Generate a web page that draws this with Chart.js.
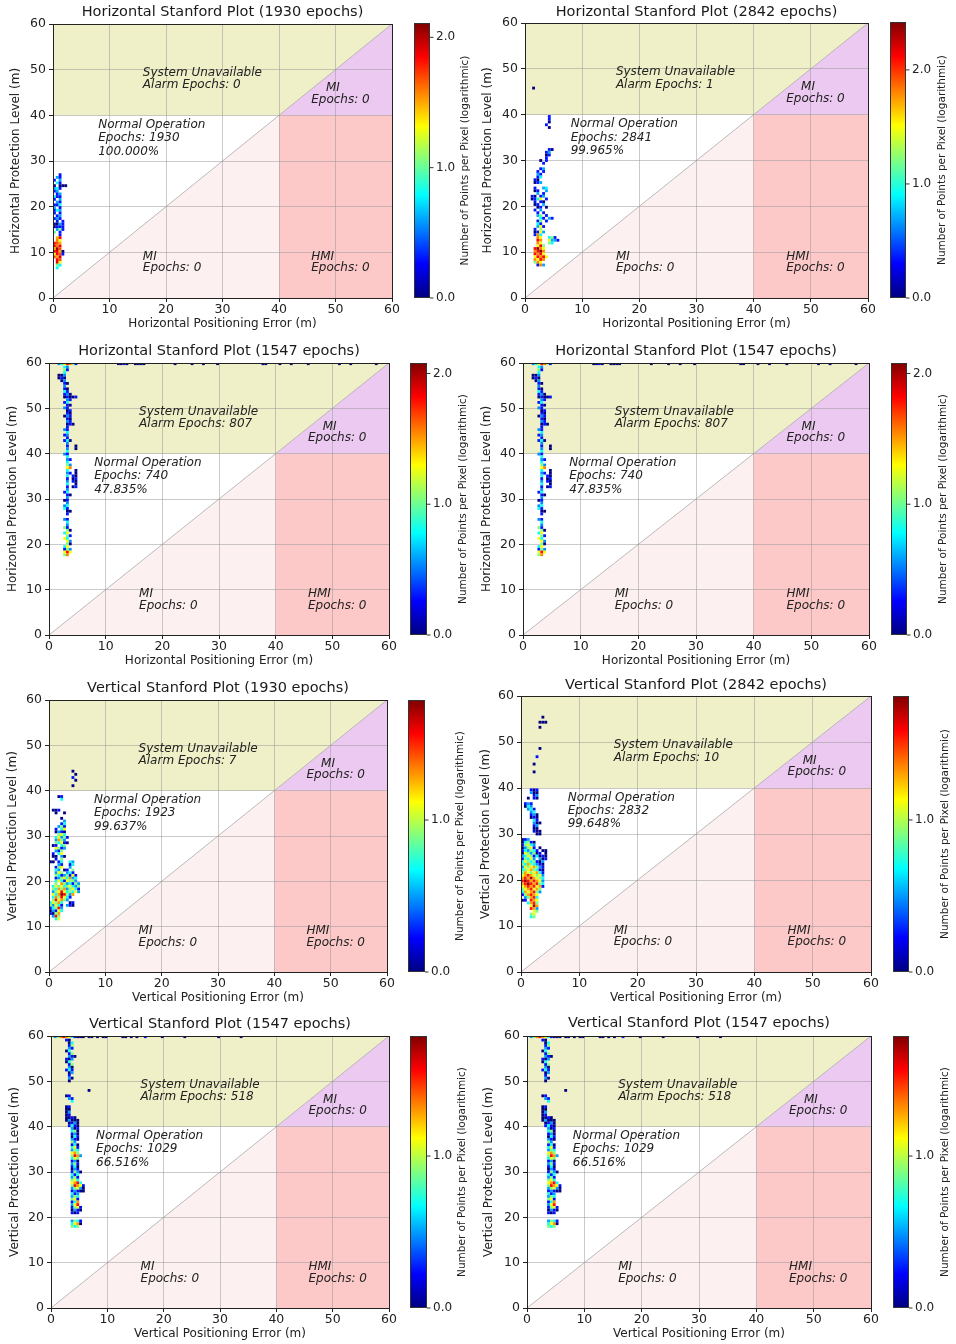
<!DOCTYPE html>
<html><head><meta charset="utf-8">
<script src="https://cdn.jsdelivr.net/npm/chart.js@4.4.1/dist/chart.umd.min.js"></script>
<style>
html,body{margin:0;padding:0;background:#fff;}
#wrap{position:relative;width:956px;height:1344px;overflow:hidden;}
canvas{position:absolute;}
</style></head><body><div id="wrap"></div>
<script>
// ---------------- DATA ----------------
const plotTitles = [
  'Horizontal Stanford Plot (1930 epochs)', 'Horizontal Stanford Plot (2842 epochs)',
  'Horizontal Stanford Plot (1547 epochs)', 'Horizontal Stanford Plot (1547 epochs)',
  'Vertical Stanford Plot (1930 epochs)', 'Vertical Stanford Plot (2842 epochs)',
  'Vertical Stanford Plot (1547 epochs)', 'Vertical Stanford Plot (1547 epochs)'
];
const xAxisTitles = ['Horizontal Positioning Error (m)','Horizontal Positioning Error (m)','Horizontal Positioning Error (m)','Horizontal Positioning Error (m)',
  'Vertical Positioning Error (m)','Vertical Positioning Error (m)','Vertical Positioning Error (m)','Vertical Positioning Error (m)'];
const yAxisTitles = ['Horizontal Protection Level (m)','Horizontal Protection Level (m)','Horizontal Protection Level (m)','Horizontal Protection Level (m)',
  'Vertical Protection Level (m)','Vertical Protection Level (m)','Vertical Protection Level (m)','Vertical Protection Level (m)'];
const alarmEpochs   = [0, 1, 807, 807, 7, 10, 518, 518];
const normalEpochs  = [1930, 2841, 740, 740, 1923, 2832, 1029, 1029];
const normalPercent = ['100.000%','99.965%','47.835%','47.835%','99.637%','99.648%','66.516%','66.516%'];
const upperMiEpochs = [0, 0, 0, 0, 0, 0, 0, 0];
const lowerMiEpochs = [0, 0, 0, 0, 0, 0, 0, 0];
const hmiEpochs     = [0, 0, 0, 0, 0, 0, 0, 0];
const colorbarMax   = [2.11, 2.42, 2.08, 2.08, 1.79, 1.815, 1.79, 1.79];
const colorbarTicks = [[0,1,2],[0,1,2],[0,1,2],[0,1,2],[0,1],[0,1],[0,1],[0,1]];
const axisTicks = [0, 10, 20, 30, 40, 50, 60];
const colorbarLabel = 'Number of Points per Pixel (logarithmic)';

// histogram cells: each row = [y, x1, v1, x2, v2, ...] (v = log10 count)
const cellsH1930 = [
  [27.0, 1.25,0.3],[26.4, 0.75,0.6, 1.25,0.3],[25.8, 0.25,0.3, 1.25,0.6],[25.2, 0.75,0.8, 1.25,0.3],
  [24.6, 0.25,0, 1.25,0, 1.75,0, 2.25,0],[24.0, 0.25,0.6, 0.75,0.8, 1.25,0.3],[23.4, 0.25,0.3, 0.75,0.6],
  [22.8, 0.75,0.3, 1.25,0.6],[22.2, 0.25,0.8, 0.75,0.3, 1.25,0.3],[21.6, 0.25,0.3, 1.25,0.6],
  [21.0, 0.75,0.6, 1.25,0.3],[20.4, 0.25,0.3, 0.75,0.3, 1.25,0.8],[19.8, 0.25,0.6, 1.25,0.3],
  [19.2, 0.25,0.3, 0.75,0.8, 1.25,0.6],[18.6, 0.25,0.3, 1.25,0.3],[18.0, 0.75,0.3, 1.25,0.6],
  [17.4, 0.25,0.3, 0.75,0.6, 1.25,0.3],[16.8, 0.75,0.3, 1.75,0.3],[16.2, 0.25,0, 0.75,0, 1.25,0.6, 1.75,0.3],
  [15.6, 0.25,0, 0.75,0.3, 1.25,0.3, 1.75,0.3],[15.0, 0.75,0.6, 1.25,1.05, 1.75,0.3],[14.4, 0.25,1.0, 1.25,0.3],
  [13.8, 1.25,0.3],[13.2, 0.75,1.5, 1.25,1.85],[12.6, 0.75,1.6, 1.25,1.3],[12.0, 0.25,1.85, 0.75,1.7, 1.25,1.5],
  [11.4, 0.25,1.9, 0.75,1.6, 1.25,1.85],[10.8, 0.25,1.5, 0.75,2.05, 1.25,1.7],[10.2, 0.25,1.85, 0.75,1.9, 1.25,1.5, 1.75,0],
  [9.6, 0.25,1.3, 0.75,1.85, 1.25,1.7, 1.75,0.3],[9.0, 0.25,1.7, 0.75,1.5, 1.25,1.9],[8.4, 0.75,1.85, 1.25,1.7],
  [7.8, 0.75,1.9, 1.25,1.3],[7.2, 0.75,1.05, 1.25,0.8],[6.6, 0.75,0.8]
];
const cellsH2842 = [
  [45.8, 1.5,0],[39.6, 4.25,0.35],[39.0, 4.25,0.35],[38.4, 4.25,0],[37.8, 3.75,0.35],[37.2, 4.25,0],
  [32.4, 4.25,0.35, 4.75,0],[31.8, 3.75,0.35, 4.25,0.7],[31.2, 3.75,0, 4.25,0.35],[30.6, 3.75,0.35],
  [30.0, 2.75,0, 3.75,0.35],[29.4, 3.25,0.35],[28.2, 2.75,0.35, 3.25,0.7],[27.6, 2.25,0.35, 3.25,0.35],
  [27.0, 2.25,0.7, 2.75,0.35],[26.4, 2.25,0.35, 2.75,0.9],[25.8, 1.75,0.35, 2.25,0],[25.2, 1.75,0, 2.25,0.35, 2.75,0.7],
  [24.0, 1.75,0.35, 3.25,0.7, 3.75,0.9],[23.4, 1.75,0, 2.25,0.35, 3.75,0.7],[22.8, 2.25,0.7, 3.25,0.35],
  [22.2, 1.25,0.35, 1.75,0, 2.75,0.35, 3.25,0.7],[21.6, 1.25,0, 1.75,0.35, 2.25,0.9, 2.75,1.5, 3.75,0.35],
  [21.0, 1.75,0.35, 2.75,0.35, 3.25,0],[20.4, 1.75,0, 2.25,0.35, 3.25,0.7],[19.8, 2.25,0, 2.75,0.35, 3.75,0],
  [19.2, 1.75,0.35, 2.75,0.7],[18.6, 2.25,0.35, 3.25,0.35],[18.0, 2.25,0.7, 2.75,1.2, 3.75,0.35],
  [17.4, 2.75,0.9, 3.25,0.35, 4.25,0.7, 4.75,0.35],[16.8, 2.25,0.35, 2.75,1.2, 3.75,0.35],[16.2, 2.25,0.9, 2.75,0.35],
  [15.6, 2.25,0.7, 2.75,1.5, 3.25,0.35],[15.0, 1.75,0.35, 2.75,1.3],[14.4, 1.75,0, 2.25,0.35, 2.75,1.5, 3.25,0.7],
  [13.8, 1.75,0.35, 2.25,1.8, 2.75,0.9],[13.2, 2.25,1.8, 2.75,1.5, 4.25,0.9, 4.75,1.2, 5.25,0.35],
  [12.6, 2.25,2.1, 2.75,1.8, 4.25,1.5, 4.75,0.7, 5.25,0.7, 5.75,0.35],[12.0, 2.25,1.8, 2.75,1.5, 4.25,1.2, 4.75,0.9],
  [11.4, 2.25,1.5, 2.75,2.1, 3.25,1.2],[10.8, 1.75,2.1, 2.25,2.4, 2.75,1.8, 3.25,1.5],
  [10.2, 1.75,1.8, 2.25,2.1, 2.75,2.4, 3.25,1.8],[9.6, 1.75,2.1, 2.25,1.8, 2.75,2.1, 3.25,1.5],
  [9.0, 1.75,1.5, 2.25,2.1, 2.75,1.8, 3.25,2.1, 3.75,1.5],[8.4, 1.75,1.8, 2.25,1.5, 2.75,2.1, 3.25,1.8],
  [7.8, 1.75,1.2, 2.25,1.8, 2.75,1.5],[7.2, 2.25,0.35, 2.75,1.8, 3.25,0.7]
];
const cellsH1547 = [
  [59.85, 1.75,0.55, 2.25,0.8, 2.75,1.3, 3.25,1.8, 3.75,1.55, 4.25,1.05, 4.75,0.3, 12.25,0, 12.75,0, 13.25,0.3, 13.75,0,
          15.25,0, 15.75,0, 16.25,0, 16.75,0, 22.25,0, 25.25,0, 27.25,0, 29.75,0, 37.75,0, 38.25,0, 40.75,0, 42.75,0,
          45.75,0, 51.25,0, 53.25,0, 57.75,0],
  [59.1, 2.75,0.8, 3.25,0.55],[58.5, 2.75,1.05, 3.25,0.3],[57.9, 2.75,0.8],[57.3, 1.75,0, 2.25,0, 2.75,0.55],
  [56.7, 1.75,0, 2.25,0.3, 2.75,0],[56.1, 2.25,0, 2.75,0.55],[55.5, 2.75,0.3, 3.25,0],[54.9, 2.75,0.55],
  [54.3, 2.75,0.3, 3.25,0],[53.7, 2.75,0.8, 3.25,0.3],[53.1, 2.75,0.3, 3.25,0.55, 3.75,0],
  [52.5, 2.75,0, 3.25,0.3, 3.75,0, 4.25,0, 4.75,0.3],[51.9, 3.25,0.55, 3.75,0.3],[51.3, 2.75,0.3, 3.25,0.8],
  [50.7, 3.25,0.3, 3.75,0],[50.1, 2.75,0.55, 3.25,0.3],[49.5, 3.25,0, 3.75,0.3],[48.9, 3.25,0.3, 3.75,0],
  [48.3, 2.75,0, 3.25,0.55, 3.75,0.3],[47.7, 3.25,0.3, 3.75,0],[47.1, 3.25,0.55, 3.75,0.3],
  [46.5, 3.25,0, 3.75,0.3, 4.25,0],[45.9, 3.25,0.3],[45.3, 2.75,0.55, 3.25,0.3],[44.7, 3.25,0.8],
  [44.1, 2.75,0.3, 3.25,0.55],[43.5, 3.25,0.3],[42.9, 2.75,0.3, 3.25,0.8, 3.75,0],[42.3, 3.25,0.55],
  [41.7, 3.25,0.3, 4.75,0],[41.1, 3.25,0.55, 4.75,0],[40.5, 3.25,0.8],[39.9, 2.75,0.55, 3.25,0.3],
  [39.3, 3.25,0.8],[38.7, 3.25,0.55, 3.75,0.3],[38.1, 3.25,0.8],[37.5, 3.25,1.05, 3.75,0.55],
  [36.9, 3.25,1.3, 3.75,1.55],[36.3, 3.25,0.8, 4.75,0],[35.7, 3.25,0.55, 3.75,0.3, 4.75,0],
  [35.1, 3.25,0.8, 4.25,0.3, 4.75,0],[34.5, 3.25,0.3, 4.25,0, 4.75,0.3],[33.9, 3.25,0.55, 4.25,0.3, 4.75,0],
  [33.3, 3.25,0.8, 4.75,0],[32.7, 3.25,0.3, 4.25,0, 4.75,0.3],[32.1, 3.25,0.55],[31.5, 2.75,0.3, 3.25,0.8],
  [30.9, 3.25,0.3, 3.75,0],[30.3, 3.25,0.55],[29.7, 2.75,0, 3.25,0.3],[29.1, 3.25,0.55],
  [28.5, 2.75,0.55, 3.25,0.8],[27.9, 2.75,0.8, 3.25,0.3],[27.3, 3.25,0, 3.75,0],[26.7, 3.25,0.3],
  [25.5, 2.75,0.55, 3.25,0.3],[24.9, 3.25,0.8],[24.3, 3.25,0.55],[23.7, 2.75,1.05, 3.25,0.3],
  [23.1, 3.25,1.05, 3.75,0],[22.5, 2.75,0.8, 3.25,1.3],[21.9, 3.25,1.05, 3.75,0.3],[21.3, 2.75,1.3, 3.25,0.8],
  [20.7, 3.25,1.3, 3.75,0.55],[20.1, 3.25,1.05, 3.75,0],[19.5, 2.75,0.8, 3.25,1.3],
  [18.9, 2.75,0.3, 3.25,1.05, 3.75,0.55],[18.3, 2.75,1.3, 3.25,1.8, 3.75,1.3],[17.7, 2.75,1.05, 3.25,1.55]
];
const cellsV1930 = [
  [44.3, 4.25,0],[43.6, 4.75,0],[42.9, 4.25,0.25],[42.3, 4.75,0],[41.1, 4.25,0],
  [38.7, 1.75,0, 2.25,0.25],[38.1, 2.25,0.7],[35.7, 0.75,0, 1.25,0, 1.75,0.25],[35.1, 1.25,0, 2.75,0],
  [33.9, 2.25,0],[33.3, 2.75,0.5],[32.7, 2.25,0.25, 2.75,0.7],[32.1, 1.75,0.5, 2.25,0.9, 2.75,0.25],
  [31.5, 1.25,0.25, 2.25,0.7, 2.75,1.1],[30.9, 1.25,0, 1.75,0.5, 2.25,0.25, 2.75,0],
  [30.3, 1.75,0.9, 2.25,1.1, 2.75,0.7],[29.7, 1.25,0.7, 1.75,1.1, 2.25,0.5, 2.75,0.9, 3.25,0.25],
  [29.1, 1.25,0.5, 1.75,1.3, 2.25,0.9, 2.75,0.5],[28.5, 1.25,0.9, 1.75,0.7, 2.25,1.1, 2.75,0.25, 3.25,0],
  [27.9, 0.75,0, 1.25,0.25, 2.25,0.7, 2.75,0.9],[27.3, 1.25,1.1, 1.75,0.9, 2.25,0.25, 2.75,0.5],
  [26.7, 1.25,0.5, 1.75,0.25, 2.25,0.9],[26.1, 0.75,0.25, 1.75,0.7, 2.25,1.1],[25.5, 0.75,0, 1.25,0, 2.25,0.5, 2.75,0],
  [24.9, 1.25,0.25, 2.25,0.9],[24.3, 0.25,0, 0.75,0, 1.75,0.25, 2.25,0.7, 3.75,0.7, 4.25,0.5],
  [23.7, 1.75,0.5, 2.25,0.25, 3.75,0.25, 4.25,0.7],[23.1, 1.25,0.25, 1.75,0.9, 2.25,1.1, 3.75,0.5],
  [22.5, 1.25,0.7, 1.75,0.5, 2.75,0, 3.25,0.25, 4.25,0.9],
  [21.9, 1.25,0.5, 1.75,1.1, 2.25,0.9, 3.25,0.5, 3.75,0.7, 4.25,0.25],
  [21.3, 1.25,0.9, 1.75,0.7, 2.25,0.25, 2.75,0.5, 3.25,0.9, 3.75,0.25, 4.25,1.1, 4.75,0.25],
  [20.7, 1.25,0.25, 1.75,0.5, 2.25,0.9, 2.75,1.1, 3.25,0.7, 3.75,1.3, 4.25,0.5, 4.75,0.7],
  [20.1, 1.25,0.7, 1.75,1.1, 2.25,0.7, 2.75,0.25, 3.25,1.1, 3.75,0.9, 4.25,0.9, 4.75,0.5],
  [19.5, 1.25,0.9, 2.25,1.3, 2.75,0.9, 3.25,0.5, 3.75,0.7, 4.25,0.25, 4.75,0.9, 5.25,0.5],
  [18.9, 0.75,0.7, 1.25,1.1, 1.75,0.9, 2.25,1.1, 2.75,0.7, 3.25,0.9, 3.75,1.1, 4.25,0.7, 4.75,0.5, 5.25,0.9],
  [18.3, 0.75,0.9, 1.25,0.7, 1.75,1.3, 2.25,0.9, 2.75,1.3, 3.25,0.5, 3.75,0.9, 4.25,1.1, 4.75,0.7, 5.25,0.25],
  [17.7, 0.75,0.5, 1.25,0.9, 1.75,1.1, 2.25,1.55, 2.75,1.1, 3.25,0.7, 3.75,0.9, 4.25,0.7, 4.75,1.1, 5.25,0.5],
  [17.1, 0.75,1.1, 1.25,0.7, 1.75,1.3, 2.25,1.75, 2.75,1.55, 3.25,0.9, 3.75,0.5, 4.25,1.3],
  [16.5, 0.75,0.7, 1.25,1.3, 1.75,0.9, 2.25,1.55, 2.75,1.1, 3.25,0.7, 3.75,0.25],
  [15.9, 0.75,0.9, 1.25,1.55, 1.75,1.1, 2.25,1.3, 2.75,0.9, 3.25,0.5],
  [15.3, 0.25,0.7, 0.75,1.1, 1.25,0.9, 1.75,1.3, 2.25,0.7, 3.75,0, 4.25,0.25],
  [14.7, 0.25,0.9, 0.75,0.5, 1.25,1.1, 1.75,0.7, 2.25,0.25, 3.25,0.5, 3.75,0.25, 4.25,0],
  [14.1, 0.25,0.25, 0.75,0.7, 1.25,0.9, 1.75,1.55, 2.25,0.5],[13.5, 0.25,0, 0.75,0.5, 1.25,0.25, 1.75,1.1, 2.25,0.7],
  [12.9, 0.25,0.25, 0.75,0, 1.25,0.9, 1.75,1.3],[12.3, 0.75,0.5, 1.25,1.55, 1.75,0.9],[11.7, 1.25,0.7, 1.75,1.1]
];
const cellsV2842 = [
  [55.4, 3.75,0],[54.3, 3.25,0, 3.75,0, 4.25,0],[53.2, 3.25,0],[48.6, 3.25,0],[46.8, 2.75,0.25],[45.2, 2.25,0],[43.5, 2.25,0],
  [39.6, 1.75,0.25, 2.25,0, 2.75,0.25],[39.0, 1.75,0.5, 2.25,0, 2.75,0],[38.4, 2.25,0.25, 2.75,0.5],[37.8, 1.25,0, 2.25,0.25, 2.75,0],
  [36.6, 0.75,0.25, 1.25,0.5, 1.75,0.25],[36.0, 0.75,0, 1.25,0.7, 1.75,0.5],[35.4, 1.25,0.5, 1.75,0.7, 2.25,0.25],
  [34.8, 1.75,0.5, 2.25,0.7],[34.2, 1.75,0.25, 2.25,0.5, 2.75,0],[33.6, 1.75,0, 2.25,0.25, 2.75,0],[33.0, 2.25,0.7, 2.75,0.25],
  [32.4, 2.25,0.5, 2.75,0, 3.25,0],[31.8, 2.25,0.25, 2.75,0.5],[31.2, 2.25,0, 2.75,0],[30.6, 2.25,0.25, 2.75,0, 3.25,0],
  [30.0, 2.75,0, 3.25,0],[28.8, 0.25,0, 0.75,0.25, 1.25,0.5],[28.2, 0.25,0, 0.75,0.7, 1.25,0.9, 1.75,0.25, 2.25,0],
  [27.6, 0.25,0.25, 0.75,0.9, 1.25,1.1, 1.75,0.7, 2.25,0.5],[27.0, 0.25,0, 0.75,0.5, 1.25,0.9, 1.75,1.1, 2.25,0.25, 3.25,0],
  [26.4, 0.25,0.25, 0.75,0.7, 1.25,0.5, 1.75,0.9, 2.25,0.7, 2.75,0.25, 3.75,0, 4.25,0],
  [25.8, 0.25,0, 0.75,1.1, 1.25,0.9, 1.75,0.5, 2.25,0.9, 2.75,0, 3.25,0.25, 4.25,0],
  [25.2, 0.25,0.5, 0.75,0.7, 1.25,1.1, 1.75,0.9, 2.25,0.25, 2.75,0.7, 3.25,0, 3.75,0.25, 4.25,0],
  [24.6, 0.25,0.25, 0.75,0.9, 1.25,0.7, 1.75,1.1, 2.25,0.5, 3.25,0.5, 3.75,0, 4.25,0.25],
  [24.0, 0.25,0.7, 0.75,1.1, 1.25,0.9, 1.75,0.7, 2.25,0.9, 2.75,0.25, 3.25,0, 3.75,0.5],
  [23.4, 0.25,0.9, 0.75,0.7, 1.25,1.3, 1.75,0.9, 2.25,0.7, 2.75,0.5, 3.25,0.25, 3.75,0],
  [22.8, 0.25,0.5, 0.75,1.1, 1.25,0.9, 1.75,1.1, 2.25,1.3, 2.75,0.9, 3.25,0.5, 3.75,0.25],
  [22.2, 0.25,0.7, 0.75,0.9, 1.25,1.1, 1.75,1.3, 2.25,0.9, 2.75,0.7, 3.25,0.25, 3.75,0],
  [21.6, 0.25,0.9, 0.75,1.3, 1.25,1.1, 1.75,0.9, 2.25,1.1, 2.75,1.3, 3.25,0.7, 3.75,0.25],
  [21.0, 0.25,1.1, 0.75,1.3, 1.25,1.55, 1.75,1.3, 2.25,1.1, 2.75,0.9, 3.25,1.1, 3.75,0.5],
  [20.4, 0.25,1.3, 0.75,1.55, 1.25,1.3, 1.75,1.75, 2.25,1.3, 2.75,1.1, 3.25,0.9, 3.75,0.7],
  [19.8, 0.25,1.55, 0.75,1.75, 1.25,1.55, 1.75,1.3, 2.25,1.55, 2.75,1.3, 3.25,1.1, 3.75,0.5],
  [19.2, 0.25,1.3, 0.75,1.55, 1.25,1.75, 1.75,1.55, 2.25,1.3, 2.75,1.55, 3.25,0.9, 3.75,0.7],
  [18.6, 0.25,1.1, 0.75,1.3, 1.25,1.55, 1.75,1.3, 2.25,1.55, 2.75,1.1, 3.25,1.3, 3.75,0.25],
  [18.0, 0.25,0.9, 0.75,1.1, 1.25,1.3, 1.75,1.55, 2.25,1.1, 2.75,1.3, 3.25,0.9],
  [17.4, 0.25,0.7, 0.75,1.3, 1.25,1.1, 1.75,1.3, 2.25,1.55, 2.75,0.9, 3.25,0.5],
  [16.8, 0.25,0.25, 0.75,0.9, 1.25,1.3, 1.75,1.55, 2.25,1.3, 2.75,1.1],
  [16.2, 0.75,0.5, 1.25,0.9, 1.75,1.3, 2.25,1.55, 2.75,0.7],[15.6, 0.25,0, 0.75,0.25, 1.75,1.55, 2.25,1.3, 2.75,1.1],
  [15.0, 1.25,0.7, 1.75,1.3, 2.25,1.55, 2.75,0.9],[14.4, 1.75,1.1, 2.25,1.75, 2.75,1.3],[13.8, 1.75,1.55, 2.25,1.3, 2.75,0.5],
  [13.2, 2.25,1.1, 2.75,0.9],[12.6, 1.75,0.9, 2.25,1.1],[12.0, 1.75,0.7, 2.25,0.9]
];
const cellsV1547 = [
  [59.85, 0.75,0.5, 1.25,0.9, 1.75,1.3, 2.25,1.55, 2.75,1.3, 3.25,1.1, 3.75,0.7, 4.25,0.25, 4.75,0, 5.25,0, 5.75,0,
          6.75,0, 7.25,0, 8.25,0, 9.25,0, 9.75,0, 12.75,0, 13.25,0, 14.25,0, 15.25,0, 16.75,0.25, 19.75,0, 23.75,0, 29.75,0, 33.75,0],
  [59.1, 2.75,0.25, 3.25,0],[58.5, 3.25,0, 3.75,0.7],[57.9, 3.25,0.25, 3.75,0.9],[57.3, 3.25,0.5, 3.75,0.25],
  [56.7, 2.75,0, 3.25,0.7],[56.1, 3.25,0.25, 3.75,0.9],[55.5, 3.25,0.5, 3.75,0.25, 4.25,0],[54.9, 2.75,0.25, 3.25,0, 3.75,0.5],
  [54.3, 2.75,0, 3.25,0.7],[53.7, 3.25,0.25, 3.75,0.9],[53.1, 3.25,0.5, 3.75,0],[52.5, 2.75,0.25, 3.25,0.7, 3.75,0.25],
  [51.9, 3.25,0, 3.75,0.5],[51.3, 3.25,0.25],[50.7, 3.25,0.5, 3.75,0],[50.1, 3.25,0],[48.0, 6.75,0],
  [46.8, 2.75,0, 3.25,0.25],[46.2, 3.25,0.5, 3.75,0.25],[45.6, 3.75,0.7],[44.4, 2.75,0, 3.25,0.25],[43.8, 2.75,0, 3.25,0],
  [43.2, 2.75,0, 3.25,0.5],[42.6, 2.75,0, 3.25,0.25],[42.0, 2.75,0, 3.25,0, 3.75,0.25, 4.25,0],
  [41.4, 2.75,0, 3.25,0.5, 3.75,0, 4.25,0, 4.75,0],[40.8, 3.25,0, 3.75,0.25, 4.25,0.5, 4.75,0],
  [40.2, 3.25,0.25, 3.75,0.7, 4.25,0.25, 4.75,0],[39.6, 3.75,0.5, 4.25,0, 4.75,0.25],[39.0, 3.75,0.7, 4.25,0.9, 4.75,0],
  [38.4, 3.75,0.25, 4.25,0.5, 4.75,0],[37.8, 3.75,0, 4.25,0.7, 4.75,0.25],[37.2, 3.75,0.5, 4.25,0.25, 4.75,0],
  [36.6, 3.75,0.9, 4.25,0.5],[36.0, 3.75,0.25, 4.25,0.7, 4.75,0],[35.4, 3.75,0.7, 4.25,1.1, 4.75,0.25],
  [34.8, 3.75,0.5, 4.25,0.9, 4.75,0.7],[34.2, 3.75,1.1, 4.25,1.3, 4.75,0.9],[33.6, 3.75,0.9, 4.25,1.55, 4.75,1.3, 5.25,0.5],
  [33.0, 3.75,0.7, 4.25,1.1, 4.75,0.9],[32.4, 3.75,0.25, 4.25,0.5, 4.75,0],[31.8, 3.75,0.5, 4.25,0.9, 4.75,0.25],
  [31.2, 3.75,0.25, 4.25,0.7, 4.75,0],[30.6, 3.75,0, 4.25,0.5, 4.75,0.25],[30.0, 3.75,0.25, 4.25,0.9, 4.75,0.5, 5.25,0],
  [29.4, 3.75,0.7, 4.25,0.25, 4.75,0.7],[28.8, 3.75,0.5, 4.25,0.9, 4.75,0.25],[28.2, 3.75,0.9, 4.25,1.1, 4.75,0.7],
  [27.6, 3.75,1.1, 4.25,1.3, 4.75,1.55, 5.25,0.7],[27.0, 3.75,0.9, 4.25,1.55, 4.75,1.3, 5.25,1.1, 5.75,0.25],
  [26.4, 3.75,0.5, 4.25,0.9, 4.75,1.1, 5.25,0.5, 5.75,0],[25.8, 3.75,0.25, 4.25,0.5, 4.75,0.25, 5.25,0, 5.75,0],
  [25.2, 3.75,0.7, 4.25,0.25, 4.75,0.5],[24.6, 3.75,0.5, 4.25,0.9, 4.75,0.7],[24.0, 3.75,0.9, 4.25,1.1, 4.75,0.25],
  [23.4, 3.75,0.25, 4.25,0.7, 4.75,1.3],[22.8, 3.75,0.5, 4.25,1.1, 4.75,1.55],[22.2, 3.75,0.25, 4.25,0.9, 4.75,1.1, 5.25,0.25],
  [21.6, 3.75,0, 4.25,0.5, 4.75,0.25, 5.25,0],[21.0, 3.75,0.25, 4.25,0, 4.75,0.25],
  [19.2, 3.75,0.5, 4.25,0.9, 4.75,0.7, 5.25,0.25],[18.6, 3.75,0.7, 4.25,1.1, 4.75,1.3, 5.25,0],[18.0, 3.75,0.9, 4.25,0.7, 4.75,0.9]
];
const panelCells = [cellsH1930, cellsH2842, cellsH1547, cellsH1547, cellsV1930, cellsV2842, cellsV1547, cellsV1547];

// ---------------- LAYOUT (pixels, local to each panel canvas) ----------------
const PW = 478, PH = 336;
const layouts = [
  {ox:0,   oy:0,    L:53, R:392, T:24, B:298, titleY:12, yTitleX:16, cbL:414, cbR:430, cbT:23, cbB:298, cbLabelX:465},
  {ox:478, oy:0,    L:47, R:390, T:23, B:298, titleY:12, yTitleX:10, cbL:412, cbR:428, cbT:22, cbB:298, cbLabelX:464},
  {ox:0,   oy:336,  L:49, R:389, T:27, B:299, titleY:15, yTitleX:13, cbL:410, cbR:427, cbT:27, cbB:299, cbLabelX:463},
  {ox:478, oy:336,  L:45, R:391, T:27, B:299, titleY:15, yTitleX:9,  cbL:413, cbR:429, cbT:27, cbB:299, cbLabelX:465},
  {ox:0,   oy:672,  L:49, R:387, T:28, B:300, titleY:16, yTitleX:13, cbL:408, cbR:425, cbT:28, cbB:300, cbLabelX:460},
  {ox:478, oy:672,  L:43, R:393, T:24, B:300, titleY:13, yTitleX:8,  cbL:415, cbR:431, cbT:24, cbB:300, cbLabelX:467},
  {ox:0,   oy:1008, L:51, R:389, T:28, B:300, titleY:16, yTitleX:15, cbL:410, cbR:427, cbT:28, cbB:300, cbLabelX:462},
  {ox:478, oy:1008, L:49, R:393, T:28, B:300, titleY:15, yTitleX:11, cbL:415, cbR:431, cbT:28, cbB:300, cbLabelX:467}
];
const FONT = '"DejaVu Sans", "Liberation Sans", sans-serif';
const TEXT = '#222222';
const REGION = {normal:'#ffffff', unavail:'#efefc8', miUpper:'#ecc9f0', miLower:'#fdf0f0', hmi:'#fcc8c8'};

function clamp01(v){ return Math.max(0, Math.min(1, v)); }
function jet(t){
  t = clamp01(t);
  const r = clamp01(1.5 - Math.abs(4*t - 3));
  const g = clamp01(1.5 - Math.abs(4*t - 2));
  const b = clamp01(1.5 - Math.abs(4*t - 1));
  return `rgb(${Math.round(r*255)},${Math.round(g*255)},${Math.round(b*255)})`;
}
function expandRows(rows){
  const out = [];
  rows.forEach(r => { for (let i = 1; i < r.length; i += 2) out.push({x: r[i], y: r[0], v: r[i+1]}); });
  return out;
}

const stanfordPlugin = {
  id: 'stanford',
  beforeDraw(chart, args, o){
    const {ctx, scales:{x, y}} = chart;
    const poly = (pts, color) => {
      ctx.beginPath();
      pts.forEach((p, i) => { const px = x.getPixelForValue(p[0]), py = y.getPixelForValue(p[1]); i ? ctx.lineTo(px, py) : ctx.moveTo(px, py); });
      ctx.closePath(); ctx.fillStyle = color; ctx.fill();
    };
    ctx.save();
    poly([[0,0],[40,40],[0,40]], REGION.normal);
    poly([[0,40],[40,40],[60,60],[0,60]], REGION.unavail);
    poly([[40,40],[60,40],[60,60]], REGION.miUpper);
    poly([[0,0],[40,0],[40,40]], REGION.miLower);
    poly([[40,0],[60,0],[60,40],[40,40]], REGION.hmi);
    ctx.beginPath();
    ctx.moveTo(x.getPixelForValue(0), y.getPixelForValue(0));
    ctx.lineTo(x.getPixelForValue(60), y.getPixelForValue(60));
    ctx.strokeStyle = 'rgba(170,170,170,0.8)'; ctx.lineWidth = 1; ctx.stroke();
    ctx.restore();
  },
  afterDatasetsDraw(chart, args, o){
    const {ctx, chartArea:a, scales:{x, y}} = chart;
    ctx.save();
    ctx.font = 'italic 12px ' + FONT;
    ctx.fillStyle = TEXT; ctx.textAlign = 'left'; ctx.textBaseline = 'middle';
    o.labels.forEach(l => ctx.fillText(l.text, x.getPixelForValue(l.x), y.getPixelForValue(l.y)));
    ctx.strokeStyle = '#222'; ctx.lineWidth = 1;
    ctx.strokeRect(Math.round(a.left)+0.5, Math.round(a.top)+0.5, Math.round(a.right-a.left), Math.round(a.bottom-a.top));
    ctx.restore();
  },
  afterDraw(chart, args, o){
    const {ctx, chartArea:a} = chart;
    const lay = o.lay;
    ctx.save();
    ctx.font = '14.5px ' + FONT; ctx.fillStyle = '#1a1a1a';
    ctx.textAlign = 'center'; ctx.textBaseline = 'middle';
    ctx.fillText(o.title, (a.left + a.right)/2, lay.titleY);
    const g = ctx.createLinearGradient(0, lay.cbB, 0, lay.cbT);
    for (let i = 0; i <= 32; i++) g.addColorStop(i/32, jet(i/32));
    ctx.fillStyle = g;
    ctx.fillRect(lay.cbL, lay.cbT, lay.cbR - lay.cbL, lay.cbB - lay.cbT);
    ctx.strokeStyle = '#333'; ctx.lineWidth = 1;
    ctx.strokeRect(lay.cbL + 0.5, lay.cbT + 0.5, lay.cbR - lay.cbL - 1, lay.cbB - lay.cbT - 1);
    ctx.font = '12px ' + FONT; ctx.fillStyle = TEXT;
    ctx.textAlign = 'left'; ctx.textBaseline = 'middle';
    o.cbTicks.forEach(t => {
      const py = lay.cbB - (t / o.vmax) * (lay.cbB - lay.cbT);
      ctx.beginPath(); ctx.moveTo(lay.cbR, py); ctx.lineTo(lay.cbR + 3.5, py); ctx.stroke();
      ctx.fillText(t.toFixed(1), lay.cbR + 6, py);
    });
    ctx.translate(lay.cbLabelX, (lay.cbT + lay.cbB)/2);
    ctx.rotate(-Math.PI/2);
    ctx.font = '10.5px ' + FONT; ctx.textAlign = 'center';
    ctx.fillText(colorbarLabel, 0, 0);
    ctx.restore();
  }
};

Chart.defaults.font.family = FONT;
const wrap = document.getElementById('wrap');
const X_TITLE_H = 33.2;

layouts.forEach((lay, i) => {
  const cv = document.createElement('canvas');
  cv.width = PW; cv.height = PH;
  cv.style.left = lay.ox + 'px'; cv.style.top = lay.oy + 'px';
  cv.style.width = PW + 'px'; cv.style.height = PH + 'px';
  wrap.appendChild(cv);
  const vmax = colorbarMax[i];
  const padL = Math.max(0, lay.yTitleX - 7.2);
  const labels = [
    {x:15.9, y:49.3, text:'System Unavailable'},
    {x:15.9, y:46.6, text:'Alarm Epochs: ' + alarmEpochs[i]},
    {x:48.3, y:46.0, text:'MI'},
    {x:45.7, y:43.4, text:'Epochs: ' + upperMiEpochs[i]},
    {x:8.0, y:37.9, text:'Normal Operation'},
    {x:8.0, y:35.0, text:'Epochs: ' + normalEpochs[i]},
    {x:8.0, y:32.1, text:normalPercent[i]},
    {x:15.9, y:9.0, text:'MI'},
    {x:15.9, y:6.5, text:'Epochs: ' + lowerMiEpochs[i]},
    {x:45.7, y:9.0, text:'HMI'},
    {x:45.7, y:6.5, text:'Epochs: ' + hmiEpochs[i]}
  ];
  const axisCommon = {
    type:'linear', min:0, max:60,
    afterBuildTicks: s => { s.ticks = axisTicks.map(v => ({value:v})); },
    grid: {color:'rgba(150,150,150,0.5)', lineWidth:1, tickColor:'#222', tickLength:4, drawTicks:true},
    border: {display:true, color:'#222'}
  };
  new Chart(cv, {
    type:'scatter',
    data:{ datasets:[{
      data: expandRows(panelCells[i]),
      pointStyle:'rect', pointRadius:2, pointHoverRadius:2, pointBorderWidth:0,
      pointBackgroundColor: c => jet((c.raw ? c.raw.v : 0) / vmax),
      clip: 0
    }]},
    options:{
      responsive:false, animation:false, devicePixelRatio:1, events:[],
      layout:{padding:{left:padL, right:PW - lay.R, top:lay.T, bottom:PH - lay.B - X_TITLE_H}},
      plugins:{
        legend:{display:false}, tooltip:{enabled:false}, title:{display:false},
        stanford:{lay, labels, title:plotTitles[i], vmax, cbTicks:colorbarTicks[i]}
      },
      scales:{
        x: Object.assign({}, axisCommon, {
          position:'bottom',
          ticks:{font:{size:12.5}, color:TEXT, padding:0, maxRotation:0, autoSkip:false},
          title:{display:true, text:xAxisTitles[i], font:{size:12}, color:TEXT, padding:0},
          afterFit: s => { s.height = X_TITLE_H; }
        }),
        y: Object.assign({}, axisCommon, {
          position:'left',
          ticks:{font:{size:12.5}, color:TEXT, padding:3, autoSkip:false},
          title:{display:true, text:yAxisTitles[i], font:{size:12}, color:TEXT, padding:0},
          afterFit: s => { s.width = lay.L - padL; }
        })
      }
    },
    plugins:[stanfordPlugin]
  });
});
</script>
</body></html>
